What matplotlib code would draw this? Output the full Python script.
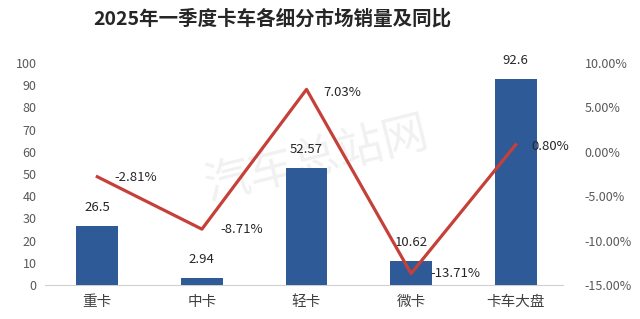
import matplotlib
matplotlib.use("Agg")
import matplotlib.pyplot as plt
from matplotlib.ticker import FuncFormatter

plt.rcParams['font.family'] = ['Noto Sans CJK SC', 'DejaVu Sans']

# 2025 Q1 truck segment sales (10k units) and YoY change (%)
categories = ["重卡", "中卡", "轻卡", "微卡", "卡车大盘"]
sales = [26.5, 2.94, 52.57, 10.62, 92.6]
sales_labels = ["26.5", "2.94", "52.57", "10.62", "92.6"]
yoy = [-2.81, -8.71, 7.03, -13.71, 0.80]

BAR_COLOR = "#2E5A97"
LINE_COLOR = "#C6403A"
TICK_COLOR = "#595959"

W, H = 640, 319
fig = plt.figure(figsize=(W / 100, H / 100), dpi=100)
ax = fig.add_axes([45 / W, 34 / H, 523 / W, 222 / H])
ax.patch.set_visible(False)

x = range(len(categories))
bars = ax.bar(x, sales, width=0.4, color=BAR_COLOR, zorder=3)
ax.set_xlim(-0.5, len(categories) - 0.5)
ax.set_ylim(0, 100)
ax.set_yticks(range(0, 101, 10))
ax.set_xticks(list(x))
ax.set_xticklabels(categories, fontsize=10.5, color="#404040")
ax.tick_params(axis="x", length=0, pad=7)
ax.tick_params(axis="y", length=0, pad=6, labelsize=9, labelcolor=TICK_COLOR)
for s in ["top", "left", "right"]:
    ax.spines[s].set_visible(False)
ax.spines["bottom"].set_color("#d0d0d0")
ax.spines["bottom"].set_bounds(-0.5, 4.45)

for i, v in enumerate(sales):
    ax.annotate(sales_labels[i], (i, v), xytext=(0, 19), textcoords="offset pixels",
                ha="center", va="center", fontsize=9.5, color="#262626")

ax2 = ax.twinx()
ax2.patch.set_visible(False)
ax2.plot(list(x), yoy, color=LINE_COLOR, linewidth=2.3, zorder=4)
ax2.set_ylim(-15, 10)
ax2.set_yticks(range(-15, 11, 5))
ax2.yaxis.set_major_formatter(FuncFormatter(lambda v, p: f"{v:.2f}%"))
ax2.tick_params(axis="y", length=0, pad=12, labelsize=9, labelcolor=TICK_COLOR)
for s in ["top", "left", "right", "bottom"]:
    ax2.spines[s].set_visible(False)

yoy_offsets = [(17, -1), (18, 0), (17, -3), (19, 0), (16, -2)]
for i, v in enumerate(yoy):
    ax2.annotate(f"{v:.2f}%", (i, v), xytext=yoy_offsets[i], textcoords="offset pixels",
                 ha="left", va="center", fontsize=9.5, color="#262626")

# faint site watermark, kept behind the plot
fig.text(316 / W, 1 - 160 / H, "汽车总站网", fontsize=33, color="#f1f1f1",
         rotation=14, ha="center", va="center", zorder=-5)

fig.text(272 / W, 1 - 19 / H, "2025年一季度卡车各细分市场销量及同比",
         fontsize=14, fontweight="bold", color="#262626", ha="center", va="center")

fig.savefig("out.png", dpi=100, facecolor="white")
